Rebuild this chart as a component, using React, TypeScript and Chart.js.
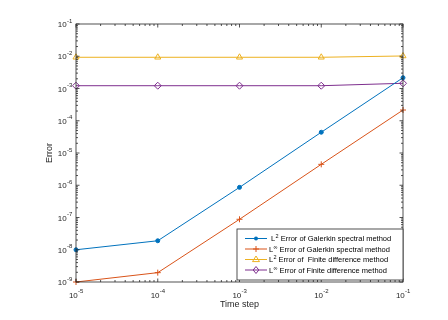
import { useEffect, useRef } from "react";
import { Chart, registerables } from "chart.js";

Chart.register(...registerables);

const timeSteps = [1e-5, 1e-4, 1e-3, 1e-2, 1e-1];
const galerkinL2 = [1.0e-8, 1.9e-8, 8.6e-7, 4.4e-5, 2.16e-3];
const galerkinLinf = [1.0e-9, 1.95e-9, 8.8e-8, 4.45e-6, 2.15e-4];
const fdL2 = [9.3e-3, 9.3e-3, 9.3e-3, 9.3e-3, 1.02e-2];
const fdLinf = [1.22e-3, 1.22e-3, 1.22e-3, 1.22e-3, 1.45e-3];

const xTickExps = [-5, -4, -3, -2, -1];
const yTickExps = [-9, -8, -7, -6, -5, -4, -3, -2, -1];

const xTitle = "Time step";
const yTitle = "Error";

const legendItems = [
  { lead: " L", sup: "2", rest: " Error of Galerkin spectral method" },
  { lead: "L", sup: "\u221E", rest: " Error of Galerkin spectral method" },
  { lead: "L", sup: "2", rest: " Error of  Finite difference method" },
  { lead: "L", sup: "\u221E", rest: " Error of Finite difference method" },
];

const COLORS = ["#0072BD", "#D95319", "#EDB120", "#7E2F8E"];
const FONT = "'Liberation Sans', Arial, Helvetica, sans-serif";
const AXIS = "#262626";

function drawPower(
  ctx: CanvasRenderingContext2D,
  exp: number,
  x: number,
  y: number,
  align: "center" | "right"
) {
  const base = "10";
  const sup = String(exp);
  ctx.font = `8px ${FONT}`;
  const bw = ctx.measureText(base).width;
  ctx.font = `6px ${FONT}`;
  const sw = ctx.measureText(sup).width;
  const total = bw + sw;
  const left = align === "center" ? x - total / 2 : x - total;
  ctx.fillStyle = AXIS;
  ctx.textAlign = "left";
  ctx.textBaseline = "alphabetic";
  ctx.font = `8px ${FONT}`;
  ctx.fillText(base, left, y);
  ctx.font = `6px ${FONT}`;
  ctx.fillText(sup, left + bw + 0.3, y - 4.3);
}

function drawMarker(ctx: CanvasRenderingContext2D, style: string, r: number, color: string, x: number, y: number) {
  ctx.save();
  ctx.strokeStyle = color;
  ctx.fillStyle = color;
  ctx.lineWidth = 1;
  ctx.beginPath();
  if (style === "circle") {
    ctx.arc(x, y, r, 0, Math.PI * 2);
    ctx.fill();
  } else if (style === "cross") {
    ctx.moveTo(x - r, y);
    ctx.lineTo(x + r, y);
    ctx.moveTo(x, y - r);
    ctx.lineTo(x, y + r);
    ctx.stroke();
  } else if (style === "triangle") {
    ctx.moveTo(x, y - r);
    ctx.lineTo(x + r, y + r * 0.6);
    ctx.lineTo(x - r, y + r * 0.6);
    ctx.closePath();
    ctx.stroke();
  } else {
    ctx.moveTo(x, y - r);
    ctx.lineTo(x + r * 0.8, y);
    ctx.lineTo(x, y + r);
    ctx.lineTo(x - r * 0.8, y);
    ctx.closePath();
    ctx.stroke();
  }
  ctx.restore();
}

const decorPlugin = {
  id: "decor",
  afterDraw(chart: any) {
    const ctx: CanvasRenderingContext2D = chart.ctx;
    const { left, right, top, bottom } = chart.chartArea;
    const xs = chart.scales.x;
    const ys = chart.scales.y;
    ctx.save();
    // frame
    ctx.strokeStyle = AXIS;
    ctx.lineWidth = 0.8;
    ctx.strokeRect(left, top, right - left, bottom - top);
    // ticks
    ctx.beginPath();
    const majorLen = 3.5;
    const minorLen = 2;
    for (let e = -5; e <= -1; e++) {
      for (let m = 1; m <= 9; m++) {
        const v = m * Math.pow(10, e);
        if (v > 0.1 * 1.0001) break;
        const px = xs.getPixelForValue(v);
        const len = m === 1 ? majorLen : minorLen;
        ctx.moveTo(px, bottom);
        ctx.lineTo(px, bottom - len);
        ctx.moveTo(px, top);
        ctx.lineTo(px, top + len);
      }
    }
    for (let e = -9; e <= -1; e++) {
      for (let m = 1; m <= 9; m++) {
        const v = m * Math.pow(10, e);
        if (v > 0.1 * 1.0001) break;
        const py = ys.getPixelForValue(v);
        const len = m === 1 ? majorLen : minorLen;
        ctx.moveTo(left, py);
        ctx.lineTo(left + len, py);
        ctx.moveTo(right, py);
        ctx.lineTo(right - len, py);
      }
    }
    ctx.stroke();
    // tick labels
    xTickExps.forEach((e) => {
      drawPower(ctx, e, xs.getPixelForValue(Math.pow(10, e)), bottom + 15.5, "center");
    });
    yTickExps.forEach((e) => {
      drawPower(ctx, e, left - 4, ys.getPixelForValue(Math.pow(10, e)) + 3, "right");
    });
    // axis titles
    ctx.fillStyle = AXIS;
    ctx.font = `9px ${FONT}`;
    ctx.textAlign = "center";
    ctx.textBaseline = "middle";
    ctx.fillText(xTitle, (left + right) / 2, bottom + 23);
    ctx.save();
    ctx.translate(50, (top + bottom) / 2);
    ctx.rotate(-Math.PI / 2);
    ctx.fillText(yTitle, 0, 0);
    ctx.restore();

    // legend
    const lx = 237;
    const ly = 229;
    const lw = right - lx;
    const lh = 51;
    ctx.fillStyle = "#ffffff";
    ctx.fillRect(lx, ly, lw, lh);
    ctx.strokeStyle = AXIS;
    ctx.lineWidth = 0.8;
    ctx.strokeRect(lx, ly, lw, lh);
    const dsArr = chart.data.datasets;
    legendItems.forEach((item, i) => {
      const ds = dsArr[i];
      const cy = ly + 9.5 + i * 10.5;
      ctx.strokeStyle = ds.borderColor;
      ctx.lineWidth = 1;
      ctx.beginPath();
      ctx.moveTo(lx + 8, cy);
      ctx.lineTo(lx + 30, cy);
      ctx.stroke();
      drawMarker(ctx, ds.pointStyle, ds.pointRadius, ds.borderColor, lx + 19, cy);
      // text
      ctx.fillStyle = "#000000";
      ctx.textAlign = "left";
      ctx.textBaseline = "alphabetic";
      let tx = lx + 32;
      const by = cy + 2.7;
      ctx.font = `7.5px ${FONT}`;
      ctx.fillText(item.lead, tx, by);
      tx += ctx.measureText(item.lead).width;
      ctx.font = `5.5px ${FONT}`;
      ctx.fillText(item.sup, tx + 0.3, by - 3.2);
      tx += ctx.measureText(item.sup).width + 0.3;
      ctx.font = `7.5px ${FONT}`;
      ctx.fillText(item.rest, tx, by);
    });
    ctx.restore();
  },
};

function makeData(vals: number[]) {
  return timeSteps.map((x, i) => ({ x, y: vals[i] }));
}

export default function App() {
  const ref = useRef<HTMLCanvasElement | null>(null);
  useEffect(() => {
    if (!ref.current) return;
    const common = {
      showLine: true,
      borderWidth: 1,
      pointBorderWidth: 1,
      clip: false as any,
    };
    const chart = new Chart(ref.current, {
      type: "scatter",
      data: {
        datasets: [
          {
            ...common,
            label: "L2 Galerkin",
            data: makeData(galerkinL2),
            borderColor: COLORS[0],
            backgroundColor: COLORS[0],
            pointStyle: "circle",
            pointRadius: 2,
            pointBackgroundColor: COLORS[0],
            pointBorderColor: COLORS[0],
          },
          {
            ...common,
            label: "Linf Galerkin",
            data: makeData(galerkinLinf),
            borderColor: COLORS[1],
            backgroundColor: COLORS[1],
            pointStyle: "cross",
            pointRadius: 3,
            pointBorderColor: COLORS[1],
          },
          {
            ...common,
            label: "L2 FD",
            data: makeData(fdL2),
            borderColor: COLORS[2],
            backgroundColor: "rgba(0,0,0,0)",
            pointStyle: "triangle",
            pointRadius: 3.5,
            pointBackgroundColor: "rgba(0,0,0,0)",
            pointBorderColor: COLORS[2],
          },
          {
            ...common,
            label: "Linf FD",
            data: makeData(fdLinf),
            borderColor: COLORS[3],
            backgroundColor: "rgba(0,0,0,0)",
            pointStyle: "rectRot",
            pointRadius: 3.5,
            pointBackgroundColor: "rgba(0,0,0,0)",
            pointBorderColor: COLORS[3],
          },
        ],
      },
      options: {
        animation: false,
        responsive: false,
        maintainAspectRatio: false,
        devicePixelRatio: 1,
        layout: { padding: { left: 76, right: 45, top: 24, bottom: 38 } },
        plugins: {
          legend: { display: false },
          tooltip: { enabled: false },
        },
        scales: {
          x: { type: "logarithmic", min: 1e-5, max: 1e-1, display: false },
          y: { type: "logarithmic", min: 1e-9, max: 1e-1, display: false },
        },
      },
      plugins: [decorPlugin],
    });
    return () => chart.destroy();
  }, []);
  return (
    <div style={{ position: "fixed", left: 0, top: 0, width: 448, height: 320, background: "#fff" }}>
      <canvas ref={ref} width={448} height={320} style={{ width: 448, height: 320, display: "block" }} />
    </div>
  );
}
